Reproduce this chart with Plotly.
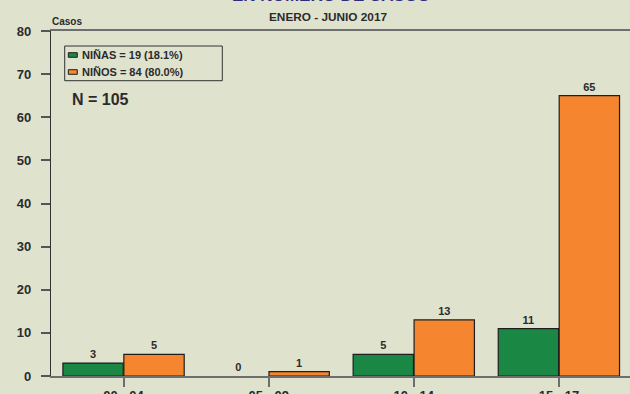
import plotly.graph_objects as go

grupos = ["00 - 04", "05 - 09", "10 - 14", "15 - 17"]
ninas = [3, 0, 5, 11]
ninos = [5, 1, 13, 65]
total_casos = 105

titulo = "EN NÚMERO DE CASOS"
subtitulo = "ENERO - JUNIO 2017"
eje_y = "Casos"

VERDE = "#1b8745"
NARANJA = "#f5852f"
FONDO = "#dfe2cd"
TEXTO = "#2b2b2b"
FUENTE = "Liberation Sans, Arial, sans-serif"

# plot area in pixels (630x394 page)
L, T, B = 51, 31, 18
W, H = 630, 394
PW, PH = W - L, H - T - B


def px_x(px):
    return (px - L) / PW


def px_y(py):
    return (H - B - py) / PH


fig = go.Figure()
for nombre, valores, color in [("NIÑAS", ninas, VERDE), ("NIÑOS", ninos, NARANJA)]:
    fig.add_trace(go.Bar(
        x=grupos, y=valores, name=nombre,
        marker=dict(color=color,
                    line=dict(color="#1e1e1e", width=[1.2 if v else 0 for v in valores])),
        text=valores, textposition="outside", cliponaxis=False,
        textfont=dict(family=FUENTE, size=11, color=TEXTO, weight="bold"),
        showlegend=False,
    ))

fig.update_layout(
    width=W, height=H,
    margin=dict(l=L, r=0, t=T, b=B),
    paper_bgcolor=FONDO, plot_bgcolor=FONDO,
    barmode="group", bargap=0.16, bargroupgap=0.01,
    font=dict(family=FUENTE, color=TEXTO),
)
fig.update_xaxes(
    range=[-0.5, 3.49], showgrid=False, automargin=False,
    showline=True, mirror=True, linecolor="#6e6e6e", linewidth=2,
    ticks="outside", ticklen=9, tickwidth=1.5, tickcolor="#6e6e6e",
    ticklabelstandoff=-3,
    tickfont=dict(family=FUENTE, size=13, color=TEXTO, weight="bold"),
)
fig.update_yaxes(
    range=[0, 80], dtick=10, showgrid=False, zeroline=False, automargin=False,
    showline=True, linecolor="#333333", linewidth=1.2,
    ticks="outside", ticklen=9, tickwidth=1.5, tickcolor="#555555",
    ticklabelstandoff=7,
    tickfont=dict(family=FUENTE, size=13, color=TEXTO, weight="bold"),
)

# legend box drawn by hand to match the original layout
fig.add_shape(type="rect", xref="paper", yref="paper",
              x0=px_x(64.7), x1=px_x(222.3), y0=px_y(80.7), y1=px_y(46),
              line=dict(color="#333333", width=1), fillcolor=FONDO)
entradas = [("NIÑAS", ninas, VERDE, 55), ("NIÑOS", ninos, NARANJA, 72)]
for nombre, valores, color, cy in entradas:
    suma = sum(valores)
    fig.add_shape(type="rect", xref="paper", yref="paper",
                  x0=px_x(68.3), x1=px_x(77.3), y0=px_y(cy + 2.3), y1=px_y(cy - 2.3),
                  line=dict(color="#1e1e1e", width=1), fillcolor=color)
    fig.add_annotation(
        x=px_x(80), y=px_y(cy), xref="paper", yref="paper",
        xanchor="left", yanchor="middle", showarrow=False,
        text=f"{nombre} = {suma} ({suma / total_casos * 100:.1f}%)",
        font=dict(family=FUENTE, size=11, color=TEXTO, weight="bold"),
    )

fig.add_annotation(x=px_x(70), y=px_y(100), xref="paper", yref="paper",
                   xanchor="left", yanchor="middle", showarrow=False,
                   text=f"N = {total_casos}",
                   font=dict(family=FUENTE, size=16, color=TEXTO, weight="bold"))
fig.add_annotation(x=px_x(50), y=px_y(21), xref="paper", yref="paper",
                   xanchor="left", yanchor="middle", showarrow=False,
                   text=eje_y,
                   font=dict(family=FUENTE, size=10, color=TEXTO, weight="bold"))
fig.add_annotation(x=px_x(328), y=px_y(16.7), xref="paper", yref="paper",
                   xanchor="center", yanchor="middle", showarrow=False,
                   text=subtitulo,
                   font=dict(family=FUENTE, size=11.8, color=TEXTO, weight="bold"))
fig.add_annotation(x=px_x(330), y=px_y(7), xref="paper", yref="paper",
                   xanchor="center", yanchor="bottom", showarrow=False,
                   text=titulo,
                   font=dict(family=FUENTE, size=17, color="#2e2b7c", weight="bold"))

fig.write_html("out.html", config={"displayModeBar": False},
               post_script="document.body.style.margin='0';document.body.style.overflow='hidden';")
